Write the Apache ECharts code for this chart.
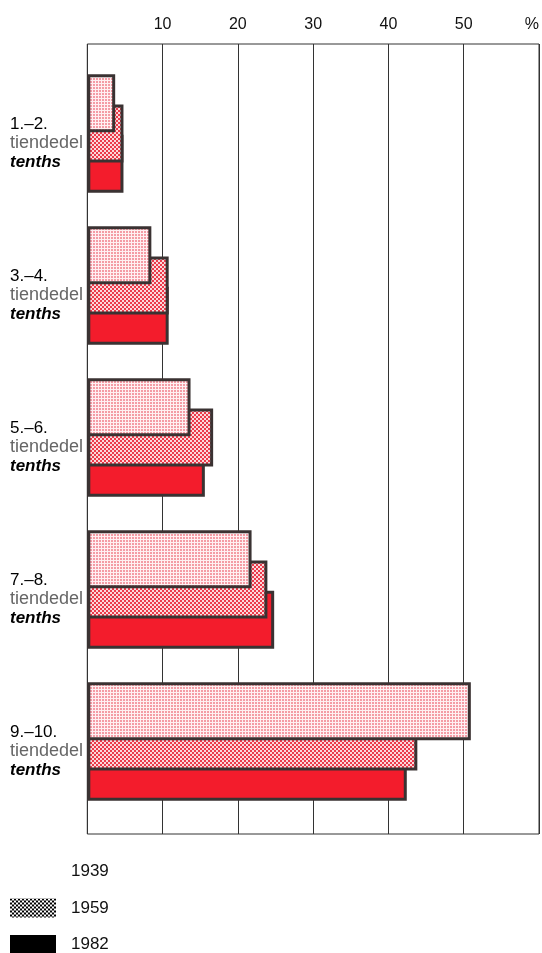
<!DOCTYPE html>
<html>
<head>
<meta charset="utf-8">
<script src="https://cdn.jsdelivr.net/npm/echarts@6/dist/echarts.min.js"></script>
<style>
  html, body { margin: 0; padding: 0; background: #fff; }
  #chart { width: 542px; height: 953px; }
</style>
</head>
<body>
<div id="chart"></div>
<script>
// ---- data ----
var categories = ['1.–2.', '3.–4.', '5.–6.', '7.–8.', '9.–10.'];
var seriesNames = ['1939', '1959', '1982'];
var values1939 = [3.7, 8.5, 13.7, 21.8, 50.9];
var values1959 = [4.8, 10.8, 16.7, 23.9, 43.8];
var values1982 = [4.8, 10.8, 15.6, 24.8, 42.4];
var tickValues = [0, 10, 20, 30, 40, 50, 60];
var tickLabels = ['', '10', '20', '30', '40', '50', '%'];
var subLabel1 = 'tiendedel';
var subLabel2 = 'tenths';

// ---- patterns ----
function makePattern(size, fn) {
  var c = document.createElement('canvas');
  c.width = size; c.height = size;
  var ctx = c.getContext('2d');
  for (var y = 0; y < size; y++) {
    for (var x = 0; x < size; x++) {
      ctx.fillStyle = fn(x, y);
      ctx.fillRect(x, y, 1, 1);
    }
  }
  return { image: c, repeat: 'repeat' };
}
var pat1939 = makePattern(3, function (x, y) {
  return (x < 2 && y < 2) ? '#f49ca5' : '#fff0f2';
});
var pat1959 = makePattern(4, function (x, y) {
  return ((Math.floor(x / 2) + Math.floor(y / 2)) % 2 === 0) ? '#ec3a4a' : '#fbd8dc';
});
var patLegend = makePattern(4, function (x, y) {
  return ((Math.floor(x / 2) + Math.floor(y / 2)) % 2 === 0) ? '#000' : '#fff';
});

var FONT = "'Liberation Sans', Arial, Helvetica, sans-serif";
var chart = echarts.init(document.getElementById('chart'), null, { renderer: 'canvas' });

var borderCol = '#3a3232';
function barSeries(name, data, color, z) {
  return {
    name: name,
    type: 'bar',
    xAxisIndex: 1,
    yAxisIndex: 1,
    data: data,
    barWidth: 58,
    barGap: '-48%',
    z: z,
    itemStyle: { color: color, borderColor: borderCol, borderWidth: 3 },
    emphasis: { disabled: true },
    silent: true
  };
}

var option = {
  backgroundColor: '#fff',
  animation: false,
  textStyle: { fontFamily: FONT },
  grid: [
    { left: 87.3, right: 2.6, top: 44, bottom: 119, show: true, borderColor: '#333', borderWidth: 1, backgroundColor: 'transparent' },
    { left: 87.3, right: 2.6, top: 57.5, bottom: 135.5 }
  ],
  xAxis: [
    {
      gridIndex: 0, type: 'value', position: 'top', min: 0, max: 60, interval: 10,
      axisLine: { show: false }, axisTick: { show: false },
      axisLabel: {
        fontSize: 16, color: '#111', fontFamily: FONT, margin: 11, alignMaxLabel: 'right',
        formatter: function (v) { var i = tickValues.indexOf(v); return i >= 0 ? tickLabels[i] : ''; }
      },
      splitLine: { show: true, lineStyle: { color: '#333', width: 1 } }
    },
    { gridIndex: 1, type: 'value', min: 0, max: 60, show: false }
  ],
  yAxis: [
    { gridIndex: 0, type: 'value', min: 0, max: 1, show: false },
    {
      gridIndex: 1, type: 'category', inverse: true, data: categories,
      axisLine: { show: false }, axisTick: { show: false }, splitLine: { show: false },
      axisLabel: {
        align: 'left', margin: 77.3, padding: [18, 0, 0, 0],
        formatter: function (v) { return '{a|' + v + '}\n{b|' + subLabel1 + '}\n{c|' + subLabel2 + '}'; },
        rich: {
          a: { fontSize: 17, color: '#000', fontFamily: FONT, lineHeight: 20 },
          b: { fontSize: 18, color: '#666', fontFamily: FONT, lineHeight: 19 },
          c: { fontSize: 17, color: '#000', fontFamily: FONT, fontStyle: 'italic', fontWeight: 'bold', lineHeight: 18 }
        }
      }
    }
  ],
  legend: {
    orient: 'vertical', left: 10, top: 862, height: 130, padding: 0, itemWidth: 46, itemHeight: 19, itemGap: 17.5,
    icon: 'rect', selectedMode: false,
    textStyle: { fontSize: 17, color: '#111', fontFamily: FONT, padding: [12, 0, 0, 10] },
    data: [
      { name: seriesNames[0], itemStyle: { color: 'rgba(0,0,0,0)', borderWidth: 0 } },
      { name: seriesNames[1], itemStyle: { color: patLegend, borderWidth: 0 } },
      { name: seriesNames[2], itemStyle: { color: '#000', borderWidth: 0 } }
    ]
  },
  series: [
    barSeries(seriesNames[0], values1939, pat1939, 5),
    barSeries(seriesNames[1], values1959, pat1959, 4),
    barSeries(seriesNames[2], values1982, '#f31c2c', 3)
  ]
};
chart.setOption(option);
</script>
</body>
</html>
